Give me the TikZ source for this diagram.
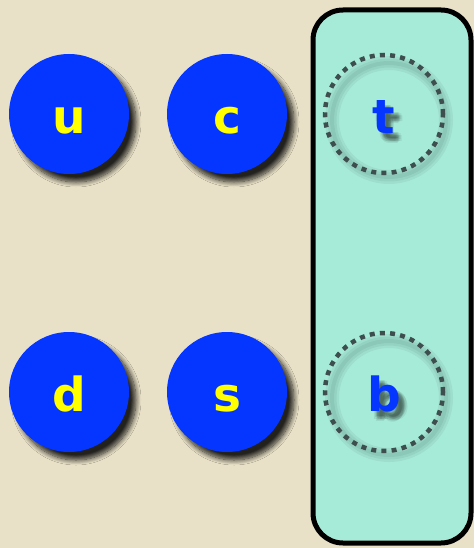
\documentclass[tikz,border=0pt]{standalone}
\usepackage{fontspec}
\usepackage{tikz}
\usetikzlibrary{shadows.blur}
\newfontfamily\quarkfont{DejaVu Sans}
\definecolor{paper}{HTML}{E9E1C7}
\definecolor{quarkblue}{HTML}{0536FF}
\definecolor{quarkyellow}{HTML}{FFFF00}
\definecolor{heavyfill}{HTML}{A6EBD8}
\definecolor{dotgray}{HTML}{3E4D4E}
\tikzset{
  letter/.style={font=\quarkfont\bfseries\fontsize{47}{47}\selectfont,
    text height=39pt,text depth=0pt},
  light/.style={circle,fill=quarkblue,minimum size=120pt,inner sep=0pt,
    text=quarkyellow,letter,
    blur shadow={shadow xshift=7pt,shadow yshift=-8pt,shadow blur radius=5pt,
      shadow blur steps=10,shadow opacity=85}},
  heavy/.style={circle,draw=dotgray,line width=4.5pt,dash pattern=on 5pt off 5.2pt,
    minimum size=118pt,inner sep=0pt,text=quarkblue,letter},
  ghost/.style={text=black,opacity=0.07,letter},
  halo/.style={draw=black,opacity=0.05},
  family/.style={draw=black,line width=5pt,fill=heavyfill,rounded corners=30pt}
}
\begin{document}
\begin{tikzpicture}[x=1pt,y=-1pt]
  \fill[paper] (0,0) rectangle (474,548);
  \useasboundingbox (0,0) rectangle (474,548);
  % third family box
  \draw[family] (313,10) rectangle (471,543);
  % light quarks
  \node[light] (u) at (69,114) {u};
  \node[light] (c) at (227,114) {c};
  \node[light] (d) at (69,392) {d};
  \node[light] (s) at (227,392) {s};
  % soft shadows of the heavy ones
  \foreach \q in {114,392}
    \foreach \w in {4,9,14}
      \draw[halo,line width=\w pt] (389,\q+6) circle (57);
  \foreach \dx/\dy in {6/7,4/6,8/6,6/9,5/5,7/8,3/8,9/8,6/5,5/10}{
    \node[ghost] at (384+\dx,114+\dy) {t};
    \node[ghost] at (384+\dx,392+\dy) {b};
  }
  \node[heavy] (t) at (384,114) {t};
  \node[heavy] (b) at (384,392) {b};
\end{tikzpicture}
\end{document}
